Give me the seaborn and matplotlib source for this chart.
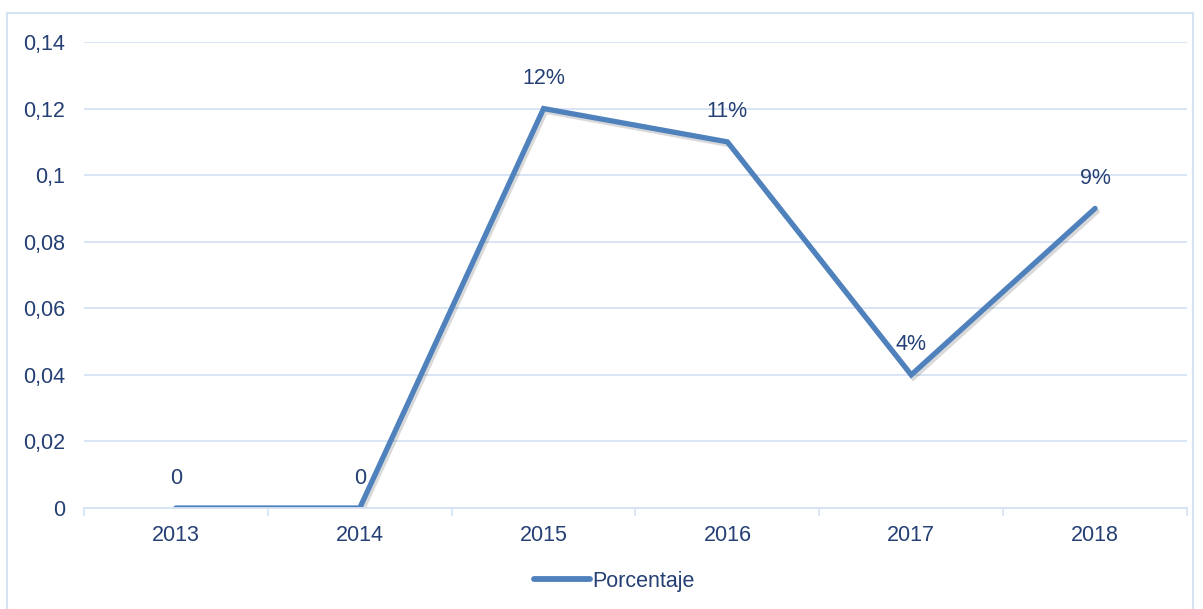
import matplotlib
matplotlib.use("Agg")
import matplotlib.pyplot as plt
import matplotlib.patheffects as pe
from matplotlib.patches import Rectangle
from matplotlib.ticker import FuncFormatter, FixedLocator
import pandas as pd
import seaborn as sns

years = ["2013", "2014", "2015", "2016", "2017", "2018"]
porcentaje = [0.0, 0.0, 0.12, 0.11, 0.04, 0.09]
point_labels = ["0", "0", "12%", "11%", "4%", "9%"]
y_ticks = [0, 0.02, 0.04, 0.06, 0.08, 0.10, 0.12, 0.14]

sns.set_theme(style="white")
plt.rcParams["font.family"] = ["Liberation Sans", "DejaVu Sans"]

TEXT = "#243F73"
LINE = "#4F81BD"
GRID = "#D6E3F3"
FS = 15.5

df = pd.DataFrame({"Año": years, "Porcentaje": porcentaje})
df["pos"] = range(len(df))

fig = plt.figure(figsize=(12.03, 6.09), dpi=100)
ax = fig.add_axes([84 / 1203, 1 - 508 / 609, (1187 - 84) / 1203, (508 - 42) / 609])

sns.lineplot(data=df, x="pos", y="Porcentaje", ax=ax, color=LINE, linewidth=3.8,
             label="Porcentaje", solid_capstyle="round", solid_joinstyle="miter",
             path_effects=[pe.SimpleLineShadow(offset=(1.5, -2), shadow_color="#000000", alpha=0.15),
                           pe.Normal()])

ax.set_xlim(-0.5, len(years) - 0.5)
ax.set_ylim(0, 0.14)
ax.set_yticks(y_ticks)
ax.yaxis.set_major_formatter(FuncFormatter(lambda v, _: ("%g" % round(v, 4)).replace(".", ",")))
ax.set_xticks(df["pos"])
ax.set_xticklabels(years)
ax.xaxis.set_minor_locator(FixedLocator([i - 0.5 for i in range(len(years) + 1)]))
ax.tick_params(axis="x", which="major", length=0, pad=12, labelsize=FS, labelcolor=TEXT)
ax.tick_params(axis="x", which="minor", length=6, width=1.2, color=GRID, direction="out", bottom=True)
ax.tick_params(axis="y", length=0, pad=13.5, labelsize=FS, labelcolor=TEXT)
ax.set_xlabel("")
ax.set_ylabel("")
ax.grid(axis="y", color=GRID, linewidth=1.3)
ax.set_axisbelow(True)
for side in ["top", "right", "left"]:
    ax.spines[side].set_visible(False)
ax.spines["bottom"].set_color(GRID)
ax.spines["bottom"].set_linewidth(1.3)

for i, (v, lab) in enumerate(zip(porcentaje, point_labels)):
    ax.annotate(lab, xy=(i, v), xytext=(0, 30), textcoords="offset pixels",
                ha="center", va="center", fontsize=FS, color=TEXT)

leg = ax.legend(loc="center", bbox_to_anchor=((614 - 84) / 1103, -(581 - 508) / 466),
                bbox_transform=ax.transAxes, frameon=False, fontsize=FS,
                handlelength=2.6, handletextpad=0.1, borderaxespad=0)
for t in leg.get_texts():
    t.set_color(TEXT)
leg.get_lines()[0].set_path_effects([])
leg.get_lines()[0].set_linewidth(4.2)

fig.patches.append(Rectangle((7 / 1203, -0.05), (1193 - 7) / 1203, 1 - 13 / 609 + 0.05,
                             transform=fig.transFigure, fill=False, edgecolor=GRID,
                             linewidth=1.5, clip_on=False))

fig.savefig("out.png", dpi=100)
